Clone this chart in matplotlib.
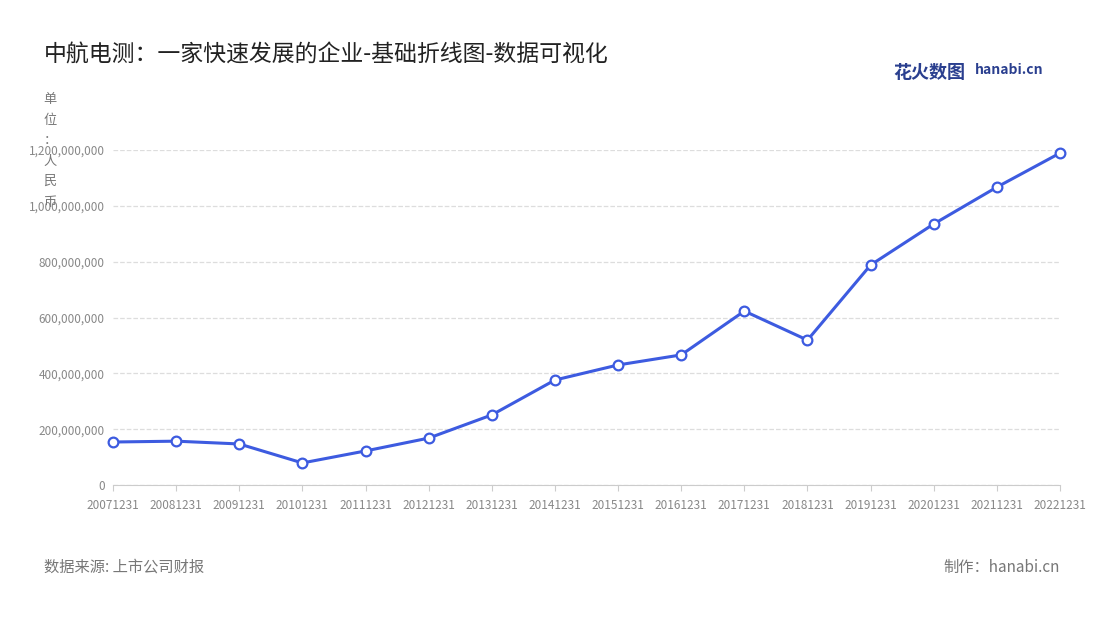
import matplotlib.pyplot as plt
from matplotlib.ticker import FuncFormatter

plt.rcParams['font.family'] = ['Noto Sans CJK SC', 'DejaVu Sans']

dates = ["20071231", "20081231", "20091231", "20101231", "20111231", "20121231",
         "20131231", "20141231", "20151231", "20161231", "20171231", "20181231",
         "20191231", "20201231", "20211231", "20221231"]
revenue = [154e6, 157e6, 147e6, 79e6, 122e6, 168e6, 251e6, 376e6, 430e6, 466e6,
           623e6, 519e6, 788e6, 935e6, 1067e6, 1189e6]

fig = plt.figure(figsize=(11, 6.2), dpi=100)
ax = fig.add_axes([113 / 1100, 1 - 485 / 620, (1060 - 113) / 1100, (485 - 150) / 620])

x = range(len(dates))
ax.plot(x, revenue, color='#3d5be0', lw=2.2, marker='o', ms=7,
        mfc='white', mec='#3d5be0', mew=1.6, zorder=3, clip_on=False)

ax.set_xlim(0, len(dates) - 1)
ax.set_ylim(0, 1.2e9)
ax.set_yticks([i * 2e8 for i in range(7)])
ax.yaxis.set_major_formatter(FuncFormatter(lambda v, p: f"{int(v):,}"))
ax.set_xticks(list(x))
ax.set_xticklabels(dates)
ax.tick_params(axis='both', labelsize=8.5, colors='#888888', length=0, pad=6)
ax.tick_params(axis='x', length=4, color='#cccccc')
ax.grid(axis='y', ls='--', color='#dddddd', lw=0.9)
for s in ['top', 'right', 'left']:
    ax.spines[s].set_visible(False)
ax.spines['bottom'].set_color('#cccccc')

fig.text(44 / 1100, 1 - 55 / 620, "中航电测：一家快速发展的企业-基础折线图-数据可视化",
         fontsize=16.5, color='#222222', va='center')
fig.text(50 / 1100, 1 - 151 / 620, "单\n位\n：\n人\n民\n币", fontsize=9.5,
         color='#777777', ha='center', va='center', linespacing=1.75)
fig.text(44 / 1100, 1 - 567 / 620, "数据来源: 上市公司财报", fontsize=11, color='#777777', va='center')
fig.text(1060 / 1100, 1 - 567 / 620, "制作：hanabi.cn", fontsize=11, color='#777777',
         va='center', ha='right')
fig.text(893 / 1100, 1 - 72 / 620, "花火数图", fontsize=13, color='#2a3f8f',
         va='center', fontweight='bold')
fig.text(975 / 1100, 1 - 70 / 620, "hanabi.cn", fontsize=10, color='#2a3f8f',
         va='center', fontweight='bold')

fig.savefig("out.png")
